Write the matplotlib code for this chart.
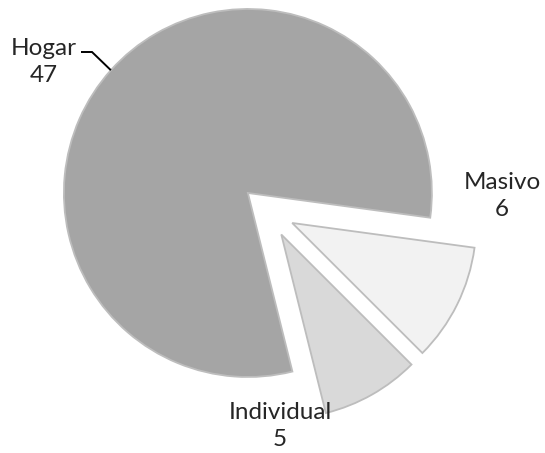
import numpy as np
import matplotlib
matplotlib.use('Agg')
from matplotlib import pyplot as plt

# data
categories = ['Hogar', 'Masivo', 'Individual']
values = [47, 6, 5]
colors = ['#a5a5a5', '#f2f2f2', '#d9d9d9']

W, H = 545, 453
fig = plt.figure(figsize=(W / 100., H / 100.), dpi=100)
ax = fig.add_axes([0, 0, 1, 1])

radius = 184
center = (268, H - 211)
# explode is in data units (pixels here)
wedges, _ = ax.pie(values, colors=colors, startangle=-76, counterclock=False,
                   explode=[27] * 3, radius=radius, center=center,
                   wedgeprops=dict(edgecolor='#bdbdbd', linewidth=1.3))
ax.set_xlim(0, W)
ax.set_ylim(0, H)
ax.set_aspect('equal')
ax.axis('off')

font = dict(family=['Lato', 'DejaVu Sans'], fontsize=17.5, color='#262626',
            ha='center', va='center', linespacing=1.35)

# label positions (pixels from top-left)
label_pos = [(44, 62), (502, 196), (280, 426)]
for cat, val, (px, py) in zip(categories, values, label_pos):
    ax.text(px, H - py, '%s\n%d' % (cat, val), **font)

# leader line for Hogar -> midpoint of its arc
w = wedges[0]
mid = np.deg2rad((w.theta1 + w.theta2) / 2.)
cx, cy = w.center
ex, ey = cx + w.r * np.cos(mid), cy + w.r * np.sin(mid)
ax.plot([81, 92, ex], [H - 52, H - 52, ey], color='black', lw=1.4,
        solid_capstyle='butt', solid_joinstyle='miter')

plt.savefig('out.png', dpi=100)
